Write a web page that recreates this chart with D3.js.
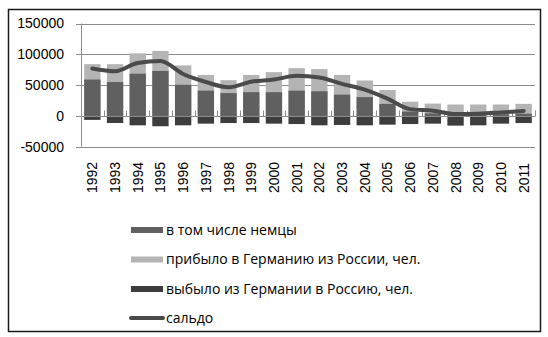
<!DOCTYPE html>
<html><head><meta charset="utf-8">
<script src="https://cdn.jsdelivr.net/npm/d3@7"></script>
<style>body{margin:0;background:#fff}svg{display:block}</style>
</head><body>
<script>
const years = ["1992","1993","1994","1995","1996","1997","1998","1999","2000","2001","2002","2003","2004","2005","2006","2007","2008","2009","2010","2011"];
const germans  = [59000,55000,68500,73000,50500,41000,37000,38500,38500,41000,40000,34500,30500,19500,7000,4000,1500,1500,2500,3500];
const arrived  = [84000,84000,101500,105500,82000,66500,58000,66500,71000,77500,76000,66500,57500,42000,23000,20000,18500,18500,18500,19500];
const departed = [-6500,-11500,-15300,-16800,-15300,-12600,-11600,-11600,-12600,-13200,-15300,-14700,-15300,-14200,-13200,-12600,-15800,-15300,-12600,-11600];
const saldo    = [77000,72500,86000,89000,68000,55000,46500,55500,59000,65000,62500,52000,42500,28000,11000,8500,3000,3500,5500,8000];
const yTicks = [-50000,0,50000,100000,150000];
const legendLabels = ["в том числе немцы","прибыло в Германию из России, чел.","выбыло из Германии в Россию, чел.","сальдо"];

const W=548,H=337;
const svg=d3.select("body").append("svg").attr("width",W).attr("height",H);
svg.append("rect").attr("x",8.5).attr("y",9.5).attr("width",532).attr("height",322)
  .attr("fill","#fff").attr("stroke","#1a1a1a").attr("stroke-width",1.5);

const x=d3.scaleBand().domain(years).range([81,535]).paddingInner(0.28).paddingOuter(0.14);
const y=d3.scaleLinear().domain([-50000,150000]).range([146.7,23.5]);

// gridlines
svg.append("g").selectAll("line").data(yTicks).join("line")
  .attr("x1",76).attr("x2",535).attr("y1",d=>Math.round(y(d))+0.5).attr("y2",d=>Math.round(y(d))+0.5)
  .attr("stroke","#8c8c8c").attr("stroke-width",1);
svg.append("line").attr("x1",81.5).attr("x2",81.5).attr("y1",y(150000)).attr("y2",y(-50000))
  .attr("stroke","#8c8c8c");
svg.append("g").selectAll("text").data(yTicks).join("text")
  .attr("x",64).attr("y",d=>y(d)).attr("dy","0.35em").attr("text-anchor","end")
  .attr("font-family","Liberation Sans, Arial, sans-serif").attr("font-size",14).attr("fill","#000")
  .text(d=>d);

const step=x.step();
// bars
const g=svg.append("g");
g.selectAll(".arr").data(years).join("rect")
  .attr("x",d=>x(d)).attr("width",x.bandwidth())
  .attr("y",(d,i)=>y(arrived[i])).attr("height",(d,i)=>y(0)-y(arrived[i]))
  .attr("fill","#b4b4b4");
g.selectAll(".ger").data(years).join("rect")
  .attr("x",d=>x(d)).attr("width",x.bandwidth())
  .attr("y",(d,i)=>y(germans[i])).attr("height",(d,i)=>y(0)-y(germans[i]))
  .attr("fill","#606060");
g.selectAll(".dep").data(years).join("rect")
  .attr("x",d=>x(d)).attr("width",x.bandwidth())
  .attr("y",y(0)).attr("height",(d,i)=>y(departed[i])-y(0))
  .attr("fill","#3d3d3d");

// zero axis + ticks
const y0=Math.round(y(0))+0.5;
svg.append("line").attr("x1",76).attr("x2",535).attr("y1",y0).attr("y2",y0).attr("stroke","#8c8c8c");
svg.append("g").selectAll("line").data(d3.range(years.length+1)).join("line")
  .attr("x1",i=>Math.round(81+i*step)+0.5).attr("x2",i=>Math.round(81+i*step)+0.5)
  .attr("y1",y0-6).attr("y2",y0).attr("stroke","#8c8c8c");

// line
svg.append("path").datum(saldo)
  .attr("d",d3.line().x((d,i)=>x(years[i])+x.bandwidth()/2).y(d=>y(d)).curve(d3.curveMonotoneX))
  .attr("fill","none").attr("stroke","#4a4a4a").attr("stroke-width",4).attr("stroke-linecap","round");

// x labels
svg.append("g").selectAll("text").data(years).join("text")
  .attr("transform",d=>`translate(${x(d)+x.bandwidth()/2+5},193) rotate(-90)`)
  .attr("font-family","Liberation Sans, Arial, sans-serif").attr("font-size",14).attr("fill","#000")
  .text(d=>d);

// legend
const lg=svg.append("g");
const rowsY=[230,259.5,289,318];
const fills=["#606060","#b4b4b4","#3d3d3d"];
fills.forEach((f,i)=>{
  lg.append("rect").attr("x",131).attr("y",rowsY[i]-3).attr("width",32).attr("height",6).attr("fill",f);
});
lg.append("line").attr("x1",131).attr("x2",163).attr("y1",rowsY[3]).attr("y2",rowsY[3])
  .attr("stroke","#4a4a4a").attr("stroke-width",4).attr("stroke-linecap","round");
lg.selectAll("text").data(legendLabels).join("text")
  .attr("x",166).attr("y",(d,i)=>rowsY[i]).attr("dy","0.35em")
  .attr("font-family","Open Sans, Noto Sans, sans-serif").attr("font-size",14).attr("fill","#000")
  .text(d=>d);
</script>
</body></html>
